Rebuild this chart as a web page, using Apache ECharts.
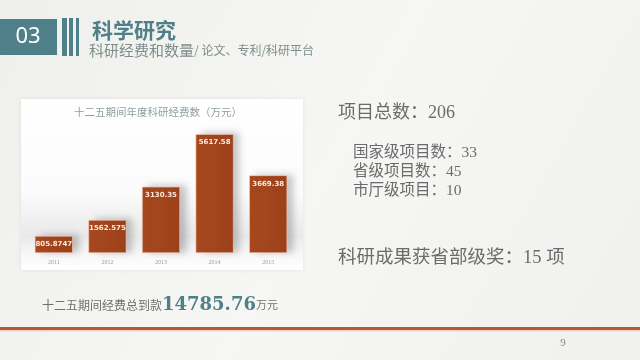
<!DOCTYPE html>
<html><head><meta charset="utf-8">
<script src="https://cdn.jsdelivr.net/npm/echarts@6/dist/echarts.min.js"></script>
<style>html,body{margin:0;padding:0;background:#f2f2f0}#c{width:640px;height:360px}</style>
</head><body><div id="c"></div>
<script>
var years = ['2011','2012','2013','2014','2015'];
var funds = [805.8747, 1562.575, 3130.35, 5617.58, 3669.38];
var fundLabels = ['805.8747','1562.575','3130.35','5617.58','3669.38'];
var chartTitle = '十二五期间年度科研经费数（万元）';
var totalProjects = 206, nationalProjects = 33, provincialProjects = 45, cityProjects = 10, awards = 15;
var totalFunds = '14785.76';

var chart = echarts.init(document.getElementById('c'), null, {renderer:'canvas'});
var cjk = '"Liberation Serif","Noto Sans CJK SC",serif';
var teal = '#4f8089';
chart.setOption({
  backgroundColor: {type:'linear',x:0,y:0,x2:1,y2:1,colorStops:[{offset:0,color:'#efefec'},{offset:0.5,color:'#f6f6f4'},{offset:1,color:'#f0f0ee'}]},
  animation:false,
  grid:{left:27,right:345,top:126,bottom:107},
  xAxis:{type:'category',data:years,axisLine:{show:false},axisTick:{show:false},
    axisLabel:{color:'#9a9a9a',fontSize:6,margin:6,fontFamily:'Liberation Serif'}},
  yAxis:{type:'value',min:0,max:6000,show:false,splitLine:{show:false}},
  graphic:[
    {type:'rect',z:-10,shape:{x:21,y:99,width:282,height:171},
      style:{fill:{type:'linear',x:0,y:0,x2:0,y2:1,colorStops:[{offset:0,color:'#ffffff'},{offset:0.55,color:'#fbfbfb'},{offset:0.8,color:'#e9e9e9'},{offset:0.9,color:'#f6f6f6'},{offset:1,color:'#ffffff'}]},
        shadowColor:'rgba(0,0,0,0.08)',shadowBlur:4}},
    {type:'text',x:158,y:112,style:{text:chartTitle,fill:'#8fa0a0',font:'10.5px "Noto Sans CJK SC"',align:'center',verticalAlign:'middle'}},
    {type:'rect',shape:{x:0,y:19,width:57,height:36},style:{fill:teal}},
    {type:'text',x:28,y:37,style:{text:'03',fill:'#ffffff',font:'22px "Noto Sans"',align:'center',verticalAlign:'middle'}},
    {type:'rect',shape:{x:62,y:18,width:5,height:38},style:{fill:teal}},
    {type:'rect',shape:{x:69,y:18,width:4,height:38},style:{fill:teal}},
    {type:'rect',shape:{x:76,y:18,width:3,height:38},style:{fill:teal}},
    {type:'text',x:92,y:30,style:{text:'科学研究',fill:teal,font:'bold 21px "Noto Sans CJK SC"',verticalAlign:'middle'}},
    {type:'text',x:89,y:50,style:{text:'{a|科研经费和数量}{b|/ 论文、专利/科研平台}',verticalAlign:'middle',
      rich:{a:{fill:'#7f8c8c',font:'15px "Noto Sans CJK SC"'},b:{fill:'#7f8c8c',font:'12px "Noto Sans CJK SC"'}}}},
    {type:'text',x:338,y:113,style:{text:'项目总数：'+totalProjects,fill:'#6b6b6b',font:'18px '+cjk,verticalAlign:'middle'}},
    {type:'text',x:353,y:153,style:{text:'国家级项目数：'+nationalProjects,fill:'#6b6b6b',font:'15.5px '+cjk,verticalAlign:'middle'}},
    {type:'text',x:353,y:172,style:{text:'省级项目数：'+provincialProjects,fill:'#6b6b6b',font:'15.5px '+cjk,verticalAlign:'middle'}},
    {type:'text',x:353,y:191,style:{text:'市厅级项目：'+cityProjects,fill:'#6b6b6b',font:'15.5px '+cjk,verticalAlign:'middle'}},
    {type:'text',x:338,y:258,style:{text:'科研成果获省部级奖：'+awards+' 项',fill:'#6b6b6b',font:'18.5px '+cjk,verticalAlign:'middle'}},
    {type:'text',x:42,y:305,style:{text:'{a|十二五期间经费总到款}{b|'+totalFunds+'}{c|万元}',verticalAlign:'middle',
      rich:{a:{fill:'#707070',font:'12px "Noto Sans CJK SC"'},b:{fill:teal,font:'bold 18px "DejaVu Serif"'},c:{fill:'#707070',font:'11px "Noto Sans CJK SC"'}}}},
    {type:'rect',shape:{x:0,y:327,width:640,height:3},style:{fill:'#b25a34'}},
    {type:'rect',shape:{x:0,y:330,width:640,height:1.5},style:{fill:'#ecd3c6'}},
    {type:'text',x:563,y:343,style:{text:'9',fill:'#8a8a8a',font:'11px "Liberation Serif"',align:'center',verticalAlign:'middle'}}
  ],
  series:[{type:'bar',data:funds,barWidth:38,
    itemStyle:{color:{type:'linear',x:0,y:0,x2:1,y2:0,colorStops:[{offset:0,color:'#a9491f'},{offset:0.5,color:'#a3451d'},{offset:1,color:'#9c411b'}]},
      borderColor:'#f1d2c2',borderWidth:0.6,shadowColor:'rgba(0,0,0,0.22)',shadowBlur:7,shadowOffsetX:6,shadowOffsetY:-1},
    label:{show:true,position:'insideTop',distance:5,color:'#fbe9df',fontSize:7,fontWeight:'bold',fontFamily:'DejaVu Sans',
      formatter:function(p){return fundLabels[p.dataIndex];}}
  }]
});
</script></body></html>
